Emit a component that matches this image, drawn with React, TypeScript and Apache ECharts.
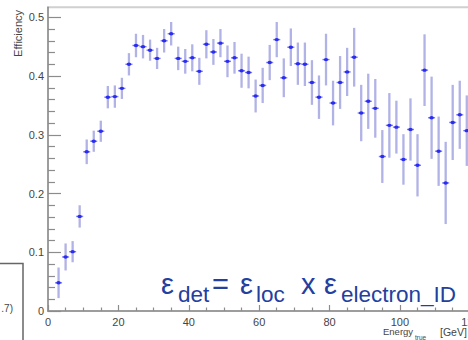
import React, { useEffect, useRef } from "react";
import * as echarts from "echarts";

// Bin centres (GeV), 2 GeV wide bins
const energy = [
  3, 5, 7, 9, 11, 13, 15, 17, 19, 21, 23, 25, 27, 29, 31, 33, 35, 37, 39, 41,
  43, 45, 47, 49, 51, 53, 55, 57, 59, 61, 63, 65, 67, 69, 71, 73, 75, 77, 79, 81,
  83, 85, 87, 89, 91, 93, 95, 97, 99, 101, 103, 105, 107, 109, 111, 113, 115, 117, 119,
];

// Detection efficiency per bin
const efficiency = [
  0.048, 0.092, 0.101, 0.161, 0.271, 0.289, 0.306, 0.364, 0.365, 0.379,
  0.42, 0.452, 0.45, 0.444, 0.43, 0.46, 0.472, 0.43, 0.425, 0.431,
  0.408, 0.454, 0.441, 0.456, 0.425, 0.431, 0.409, 0.406, 0.366, 0.384,
  0.423, 0.462, 0.397, 0.449, 0.421, 0.42, 0.389, 0.364, 0.428, 0.354,
  0.389, 0.407, 0.432, 0.337, 0.357, 0.345, 0.263, 0.316, 0.313, 0.258,
  0.309, 0.248, 0.41, 0.329, 0.272, 0.218, 0.321, 0.334, 0.307,
];

// Statistical uncertainty per bin
const uncertainty = [
  0.026, 0.023, 0.018, 0.019, 0.021, 0.018, 0.018, 0.019, 0.019, 0.018,
  0.019, 0.02, 0.02, 0.018, 0.018, 0.02, 0.02, 0.02, 0.021, 0.023,
  0.023, 0.024, 0.022, 0.024, 0.027, 0.027, 0.029, 0.027, 0.028, 0.03,
  0.03, 0.03, 0.033, 0.032, 0.036, 0.037, 0.038, 0.037, 0.044, 0.038,
  0.045, 0.041, 0.05, 0.048, 0.047, 0.05, 0.045, 0.055, 0.045, 0.043,
  0.053, 0.053, 0.061, 0.07, 0.059, 0.07, 0.064, 0.058, 0.06,
];

const yMajorTicks = [0, 0.1, 0.2, 0.3, 0.4, 0.5];
const yMinorTicks = [
  0.02, 0.04, 0.06, 0.08, 0.12, 0.14, 0.16, 0.18, 0.22, 0.24,
  0.26, 0.28, 0.32, 0.34, 0.36, 0.38, 0.42, 0.44, 0.46, 0.48,
];

const BIN_HALF_WIDTH = 1;
const FONT = "'Liberation Sans', Arial, Helvetica, sans-serif";
const AXIS_GREY = "#8c8c8c";
const LABEL_GREY = "#454545";
const FORMULA_BLUE = "#23409f";

export default function App() {
  const ref = useRef<HTMLDivElement>(null);

  useEffect(() => {
    if (!ref.current) return;
    const chart = echarts.init(ref.current, undefined, { renderer: "svg" });

    const rows = energy.map((e, i) => [e, efficiency[i], uncertainty[i]]);

    const formulaMain = (text: string, x: number) => ({
      type: "text",
      x,
      y: 284,
      style: {
        text,
        fontFamily: FONT,
        fontSize: 29,
        fill: FORMULA_BLUE,
        verticalAlign: "middle",
      },
    });
    const formulaSub = (text: string, x: number) => ({
      type: "text",
      x,
      y: 294,
      style: {
        text,
        fontFamily: FONT,
        fontSize: 22.5,
        fill: FORMULA_BLUE,
        verticalAlign: "middle",
      },
    });

    chart.setOption({
      animation: false,
      backgroundColor: "#ffffff",
      grid: {
        left: 48,
        top: 7.3,
        right: -2.3,
        bottom: 29,
        outerBoundsMode: "none",
        containLabel: false,
        show: true,
        borderColor: "#d0d0d0",
        borderWidth: 2,
      },
      xAxis: {
        type: "value",
        min: 0,
        max: 120,
        interval: 20,
        axisLine: { show: true, lineStyle: { color: AXIS_GREY, width: 1.5 } },
        axisTick: { show: true, inside: true, length: 6, lineStyle: { color: AXIS_GREY, width: 1.2 } },
        minorTick: { show: true, splitNumber: 4, length: 3.5, lineStyle: { color: AXIS_GREY, width: 1.2 } },
        axisLabel: { margin: 5, color: LABEL_GREY, fontSize: 11, fontFamily: FONT, hideOverlap: false },
        splitLine: { show: false },
      },
      yAxis: [
        {
          type: "value",
          min: 0,
          max: 0.517,
          position: "left",
          axisLine: { show: true, lineStyle: { color: AXIS_GREY, width: 1.5 } },
          axisTick: {
            show: true,
            inside: true,
            length: 13,
            customValues: yMajorTicks,
            lineStyle: { color: AXIS_GREY, width: 1.2 },
          },
          axisLabel: {
            customValues: yMajorTicks,
            margin: 4,
            color: LABEL_GREY,
            fontSize: 11,
            fontFamily: FONT,
          },
          splitLine: { show: false },
        },
        {
          type: "value",
          min: 0,
          max: 0.517,
          position: "left",
          axisLine: { show: false },
          axisTick: {
            show: true,
            inside: true,
            length: 7,
            customValues: yMinorTicks,
            lineStyle: { color: AXIS_GREY, width: 1.2 },
          },
          axisLabel: { show: false, customValues: yMinorTicks },
          splitLine: { show: false },
        },
      ],
      series: [
        {
          type: "custom",
          coordinateSystem: "cartesian2d",
          xAxisIndex: 0,
          yAxisIndex: 0,
          encode: { x: 0, y: 1 },
          data: rows,
          renderItem: (_params: any, api: any) => {
            const x = api.value(0);
            const y = api.value(1);
            const err = api.value(2);
            const c = api.coord([x, y]);
            const top = api.coord([x, y + err]);
            const bottom = api.coord([x, y - err]);
            const left = api.coord([x - BIN_HALF_WIDTH, y]);
            const right = api.coord([x + BIN_HALF_WIDTH, y]);
            return {
              type: "group",
              children: [
                {
                  type: "line",
                  shape: { x1: c[0], y1: top[1], x2: c[0], y2: bottom[1] },
                  style: { stroke: "#b1b2e6", lineWidth: 2.3 },
                },
                {
                  type: "line",
                  shape: { x1: left[0], y1: c[1], x2: right[0], y2: c[1] },
                  style: { stroke: "#7c7ef0", lineWidth: 1.4 },
                },
                {
                  type: "ellipse",
                  shape: { cx: c[0], cy: c[1], rx: 2.2, ry: 1.7 },
                  style: { fill: "#2a2cf2" },
                },
              ],
            };
          },
        },
      ],
      graphic: [
        // y-axis title
        {
          type: "text",
          x: 18,
          y: 10,
          rotation: Math.PI / 2,
          style: {
            text: "Efficiency",
            fontFamily: FONT,
            fontSize: 11,
            fill: LABEL_GREY,
            align: "right",
            verticalAlign: "middle",
          },
        },
        // x-axis title
        {
          type: "text",
          x: 383,
          y: 331.5,
          style: { text: "Energy", fontFamily: FONT, fontSize: 9.5, fill: LABEL_GREY, verticalAlign: "middle" },
        },
        {
          type: "text",
          x: 415,
          y: 337.5,
          style: { text: "true", fontFamily: FONT, fontSize: 6.5, fill: LABEL_GREY, verticalAlign: "middle" },
        },
        {
          type: "text",
          x: 440,
          y: 331.5,
          style: { text: "[GeV]", fontFamily: FONT, fontSize: 10.5, fill: LABEL_GREY, verticalAlign: "middle" },
        },
        // statistics box at the lower left
        {
          type: "rect",
          shape: { x: -6, y: 263.5, width: 29, height: 90 },
          style: { fill: "#ffffff", stroke: "#666666", lineWidth: 1.5 },
        },
        {
          type: "text",
          x: 13,
          y: 308,
          style: { text: ".7)", fontFamily: FONT, fontSize: 10, fill: LABEL_GREY, align: "right", verticalAlign: "middle" },
        },
        // efficiency decomposition
        formulaMain("ε", 161),
        formulaSub("det", 178),
        formulaMain("=", 212),
        formulaMain("ε", 240),
        formulaSub("loc", 256),
        formulaMain("x", 301),
        formulaMain("ε", 324),
        formulaSub("electron_ID", 341),
      ],
    });

    return () => chart.dispose();
  }, []);

  return (
    <div
      ref={ref}
      style={{ position: "fixed", left: 0, top: 0, width: 468, height: 340, background: "#fff" }}
    />
  );
}
